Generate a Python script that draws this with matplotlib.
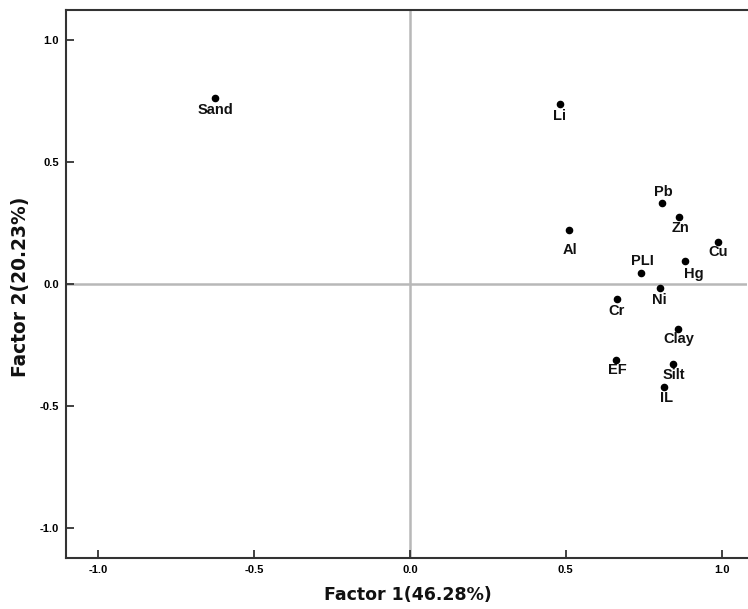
import matplotlib
matplotlib.use("Agg")
import matplotlib.pyplot as plt

labels = ["Sand", "Li", "Al", "Pb", "Zn", "Cu", "Hg", "PLI", "Ni", "Cr", "Clay", "EF", "Silt", "IL"]
factor1 = [-0.625, 0.481, 0.510, 0.809, 0.865, 0.988, 0.884, 0.743, 0.801, 0.663, 0.861, 0.660, 0.843, 0.814]
factor2 = [0.762, 0.738, 0.221, 0.331, 0.276, 0.173, 0.096, 0.046, -0.018, -0.061, -0.186, -0.313, -0.327, -0.422]
# label offsets in pixels (dx, dy)
offsets = [(0, -12), (0, -12), (1, -20), (1, 11), (1, -11), (0, -10), (8, -13), (1, 12),
           (0, -12), (0, -12), (1, -10), (2, -10), (1, -11), (3, -11)]
ticks = [-1.0, -0.5, 0.0, 0.5, 1.0]
tick_labels = ["-1.0", "-0.5", "0.0", "0.5", "1.0"]

plt.rcParams['font.family'] = ['Liberation Sans', 'DejaVu Sans']
fig = plt.figure(figsize=(7.48, 6.09), dpi=100)
ax = fig.add_axes([66/748, 1-558/609, 1-66/748 - 0.002, (558-10)/609])

ax.axhline(0, color="#b8b8b8", lw=1.8, zorder=1)
ax.axvline(0, color="#b8b8b8", lw=1.8, zorder=1)

ax.scatter(factor1, factor2, s=20, color="black", zorder=3)
for lab, x, y, (dx, dy) in zip(labels, factor1, factor2, offsets):
    ax.annotate(lab, (x, y), xytext=(dx, dy), textcoords="offset pixels",
                ha="center", va="center", fontsize=10.5, fontweight="bold", color="#111111")

ax.set_xlim(-1.103, 1.08)
ax.set_ylim(-1.123, 1.123)
ax.set_xticks(ticks)
ax.set_xticklabels(tick_labels)
ax.set_yticks(ticks)
ax.set_yticklabels(tick_labels)
ax.tick_params(direction="in", length=6, width=1.3, color="#333333",
               labelsize=8, pad=5)
for lbl in ax.get_xticklabels() + ax.get_yticklabels():
    lbl.set_fontweight("bold")
for side in ["left", "bottom", "top"]:
    ax.spines[side].set_color("#333333")
    ax.spines[side].set_linewidth(1.5)
ax.spines["right"].set_visible(False)

fig.text(408/748, 1-595/609, "Factor 1(46.28%)", fontsize=12.5, fontweight="bold",
         family=["DejaVu Sans"], ha="center", va="center", color="#111111")
fig.text(21/748, 1-287/609, "Factor 2(20.23%)", fontsize=13.4, fontweight="bold",
         family=["DejaVu Sans"], ha="center", va="center", rotation=90, color="#111111")

fig.savefig("out.png", dpi=100)
